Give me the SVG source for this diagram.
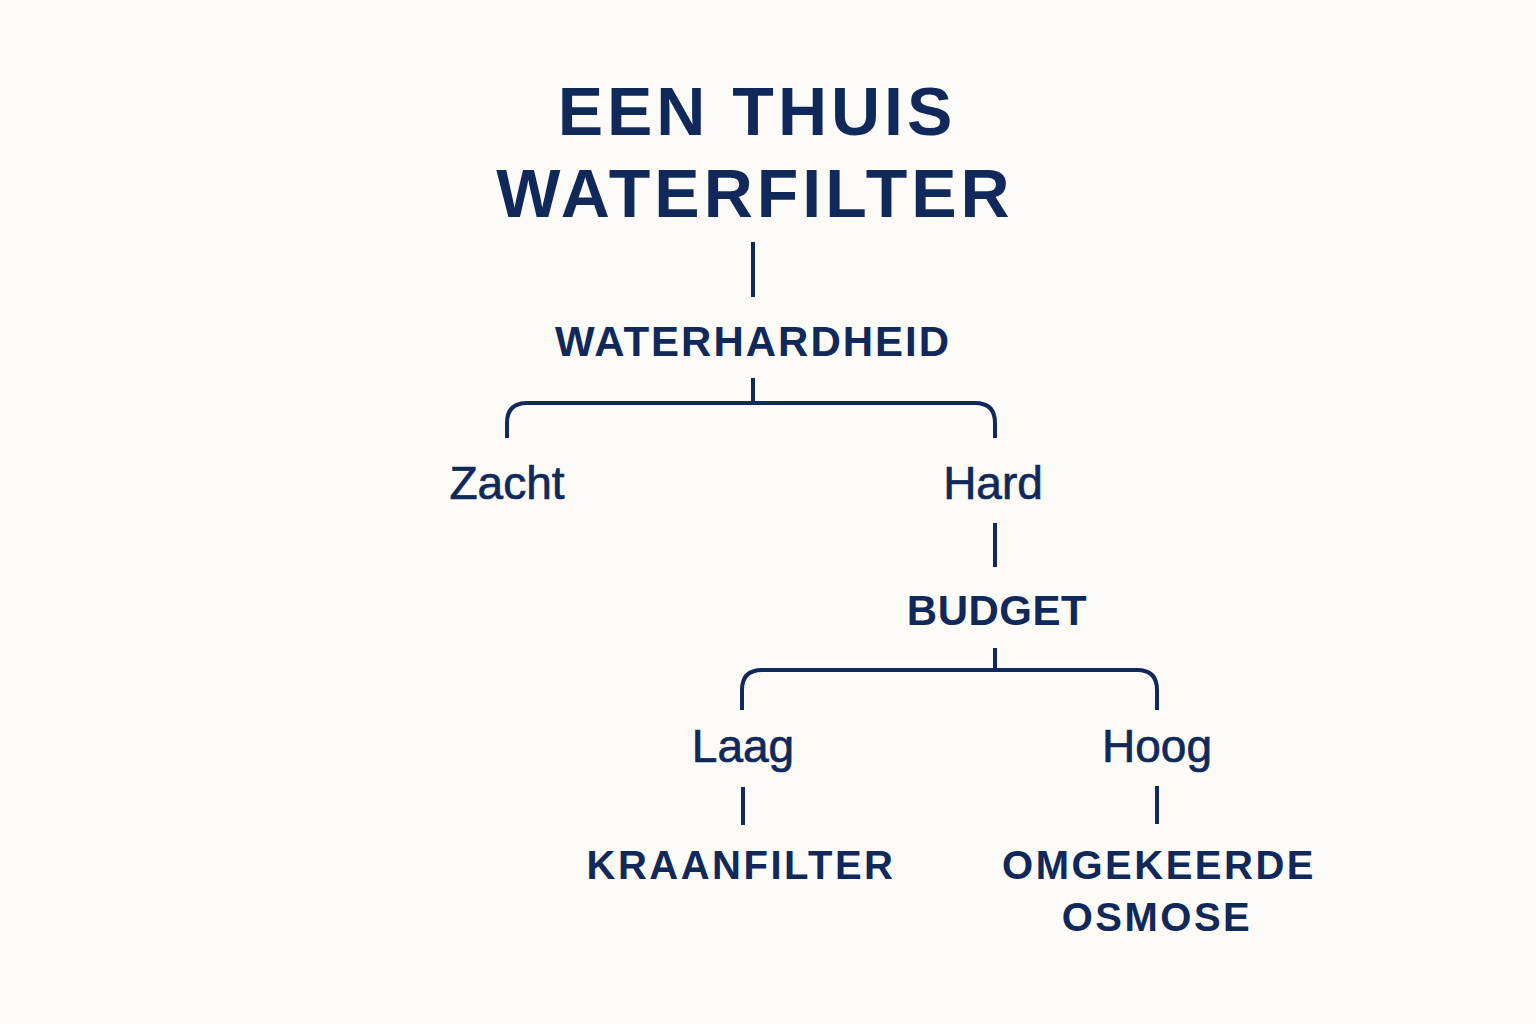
<svg xmlns="http://www.w3.org/2000/svg" width="1536" height="1024" viewBox="0 0 1536 1024">
<style>
.t{font-family:"Liberation Sans",Arial,sans-serif;fill:#10295a;text-anchor:middle}
.title{font-size:68px;font-weight:700;letter-spacing:4px}
.h{font-size:42px;font-weight:700;letter-spacing:2px}
.b{font-size:42px;font-weight:700;letter-spacing:0.5px}
.r{font-size:40px;font-weight:700;letter-spacing:2.5px}
.l{font-size:46px;font-weight:400;stroke:#10295a;stroke-width:0.7px}
.c{fill:none;stroke:#10295a;stroke-width:4;stroke-linecap:butt}
</style>
<rect width="1536" height="1024" fill="#fcfbf7"/>
<g id="connectors">
<line class="c" x1="753" y1="242" x2="753" y2="297"/>
<line class="c" x1="753" y1="378" x2="753" y2="403"/>
<path class="c" d="M507,438 V423 Q507,403 527,403 H975 Q995,403 995,423 V438"/>
<line class="c" x1="995" y1="523" x2="995" y2="567"/>
<line class="c" x1="995" y1="648" x2="995" y2="670"/>
<path class="c" d="M742,710 V690 Q742,670 762,670 H1137 Q1157,670 1157,690 V710"/>
<line class="c" x1="743" y1="787" x2="743" y2="825"/>
<line class="c" x1="1157" y1="786" x2="1157" y2="824"/>
</g>
<g id="title"><text class="t title" x="757" y="135">EEN THUIS</text><text class="t title" x="755" y="217">WATERFILTER</text></g>
<g id="waterhardheid"><text class="t h" x="753" y="356">WATERHARDHEID</text></g>
<g id="zacht"><text class="t l" x="507" y="499">Zacht</text></g>
<g id="hard"><text class="t l" x="993" y="499">Hard</text></g>
<g id="budget"><text class="t b" x="997" y="625">BUDGET</text></g>
<g id="laag"><text class="t l" x="743" y="762">Laag</text></g>
<g id="hoog"><text class="t l" x="1157" y="762">Hoog</text></g>
<g id="kraanfilter"><text class="t r" x="741" y="879">KRAANFILTER</text></g>
<g id="omgekeerde-osmose"><text class="t r" x="1159" y="879">OMGEKEERDE</text><text class="t r" x="1157" y="931">OSMOSE</text></g>
</svg>
